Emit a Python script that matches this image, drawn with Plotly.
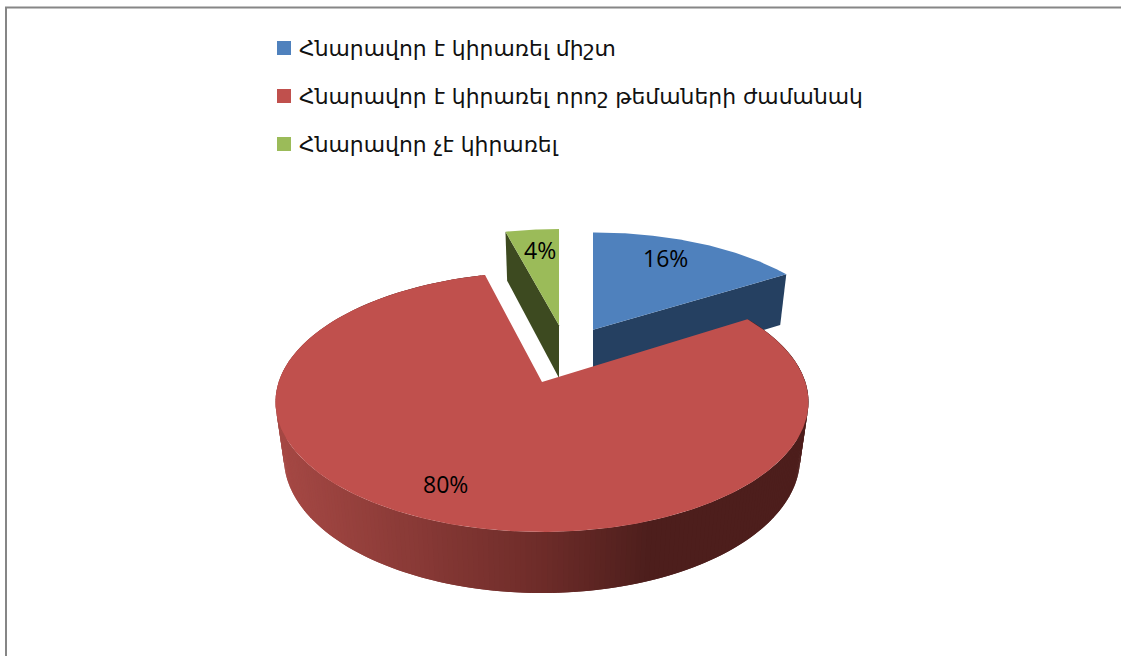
import numpy as np
import plotly.graph_objects as go

labels = [
    "Հնարավոր է կիրառել միշտ",
    "Հնարավոր է կիրառել որոշ թեմաների ժամանակ",
    "Հնարավոր չէ կիրառել",
]
values = [16, 80, 4]
colors = ["#4F81BD", "#C0504D", "#9BBB59"]
side_colors = ["#254061", "#4D1E1C", "#3D4A20"]

# slice shift for the exploded slices: pixels sideways, pie plane depth
shift_x = [51, 0, 17]
shift_v = [0.44, 0.0, 0.48]
label_x = [665, 445, 540]
label_y = [258, 484, 250]

# perspective of the pie in pixels
CX = 542
K = 0.1538
TOP = dict(a=263.3, b=126.9, cy=382)
BOTTOM = dict(a=255, b=132, cy=437)


def project(u, v, plane, dx=0):
    w = 1 + K * np.asarray(v)
    return CX + dx + plane["a"] * np.asarray(u) / w, plane["cy"] - plane["b"] * np.asarray(v) / w


def rim(start, end, dv=0.0, step=0.5):
    n = max(int(abs(end - start) / step), 1) + 1
    ang = np.radians(np.linspace(start, end, n))
    return np.sin(ang), np.cos(ang) + dv


def poly(x, y, color):
    return go.Scatter(
        x=list(x), y=list(y),
        mode="lines",
        fill="toself",
        fillcolor=color,
        line=dict(width=0, color=color),
        hoverinfo="skip",
        showlegend=False,
    )


def radial_face(ui, vi, dv, dx, color):
    x0, y0 = project([0, ui], [dv, vi], TOP, dx)
    x1, y1 = project([0, ui], [dv, vi], BOTTOM, dx)
    return poly([x0[0], x0[1], x1[1], x1[0]], [y0[0], y0[1], y1[1], y1[0]], color)


def wall_color(x):
    # dark to the right, lighter to the left
    r = np.interp(x, [280, 540, 650], [165, 110, 77])
    g = np.interp(x, [280, 540, 650], [72, 44, 30])
    b = np.interp(x, [280, 540, 650], [68, 41, 28])
    return f"rgb({r:.0f},{g:.0f},{b:.0f})"


# slice angles from the values, clockwise from 12 o'clock
total = sum(values)
edges = np.cumsum([0] + values) / total * 360

fig = go.Figure()

# green slice
dv, dx = shift_v[2], shift_x[2]
u, v = rim(edges[2], edges[3], dv)
fig.add_trace(radial_face(u[0], v[0], dv, dx, side_colors[2]))
x, y = project(np.r_[0, u], np.r_[dv, v], TOP, dx)
fig.add_trace(poly(x, y, colors[2]))

# blue slice
dv, dx = shift_v[0], shift_x[0]
u, v = rim(edges[0], edges[1], dv)
fig.add_trace(radial_face(u[0], v[0], dv, dx, side_colors[0]))
fig.add_trace(radial_face(u[-1], v[-1], dv, dx, side_colors[0]))
x, y = project(np.r_[0, u], np.r_[dv, v], TOP, dx)
fig.add_trace(poly(x, y, colors[0]))

# red slice, outer wall in overlapping strips for the gradient
u, v = rim(edges[1], edges[2], step=1.0)
xt, yt = project(u, v, TOP)
xb, yb = project(u, v, BOTTOM)
for i in range(len(u) - 2):
    fig.add_trace(poly(
        [xt[i], xt[i + 2], xb[i + 2], xb[i]],
        [yt[i], yt[i + 2], yb[i + 2], yb[i]],
        wall_color((xt[i] + xt[i + 1]) / 2),
    ))
u, v = rim(edges[1], edges[2])
x, y = project(np.r_[0, u], np.r_[0, v], TOP)
fig.add_trace(poly(x, y, colors[1]))

# legend
legend_y = [48, 96, 144]
fig.add_trace(go.Scatter(
    x=[284] * 3, y=legend_y,
    mode="markers",
    marker=dict(symbol="square", size=14, color=colors),
    hoverinfo="skip",
    showlegend=False,
))
annotations = []
for name, ly in zip(labels, legend_y):
    annotations.append(dict(
        x=297, y=ly, text=name, showarrow=False, xanchor="left", yanchor="middle",
        font=dict(family="DejaVu Sans", size=21.9, color="#111111"),
    ))
for val, lx, ly in zip(values, label_x, label_y):
    annotations.append(dict(
        x=lx, y=ly, text=f"{val}%", showarrow=False,
        font=dict(family="Open Sans", size=23, color="black"),
    ))

fig.update_layout(
    width=1121,
    height=656,
    margin=dict(l=0, r=0, t=0, b=0),
    paper_bgcolor="white",
    plot_bgcolor="white",
    showlegend=False,
    annotations=annotations,
    shapes=[dict(
        type="path", path="M 6 656 L 6 7.5 L 1121 7.5",
        line=dict(color="#868686", width=2),
    )],
)
fig.update_xaxes(range=[0, 1121], visible=False)
fig.update_yaxes(range=[656, 0], visible=False)

# page margin would push the figure 8px off
fig.write_html(
    "out.html",
    config={"displayModeBar": False},
    post_script="document.body.style.margin='0';document.body.style.overflow='hidden';",
)
